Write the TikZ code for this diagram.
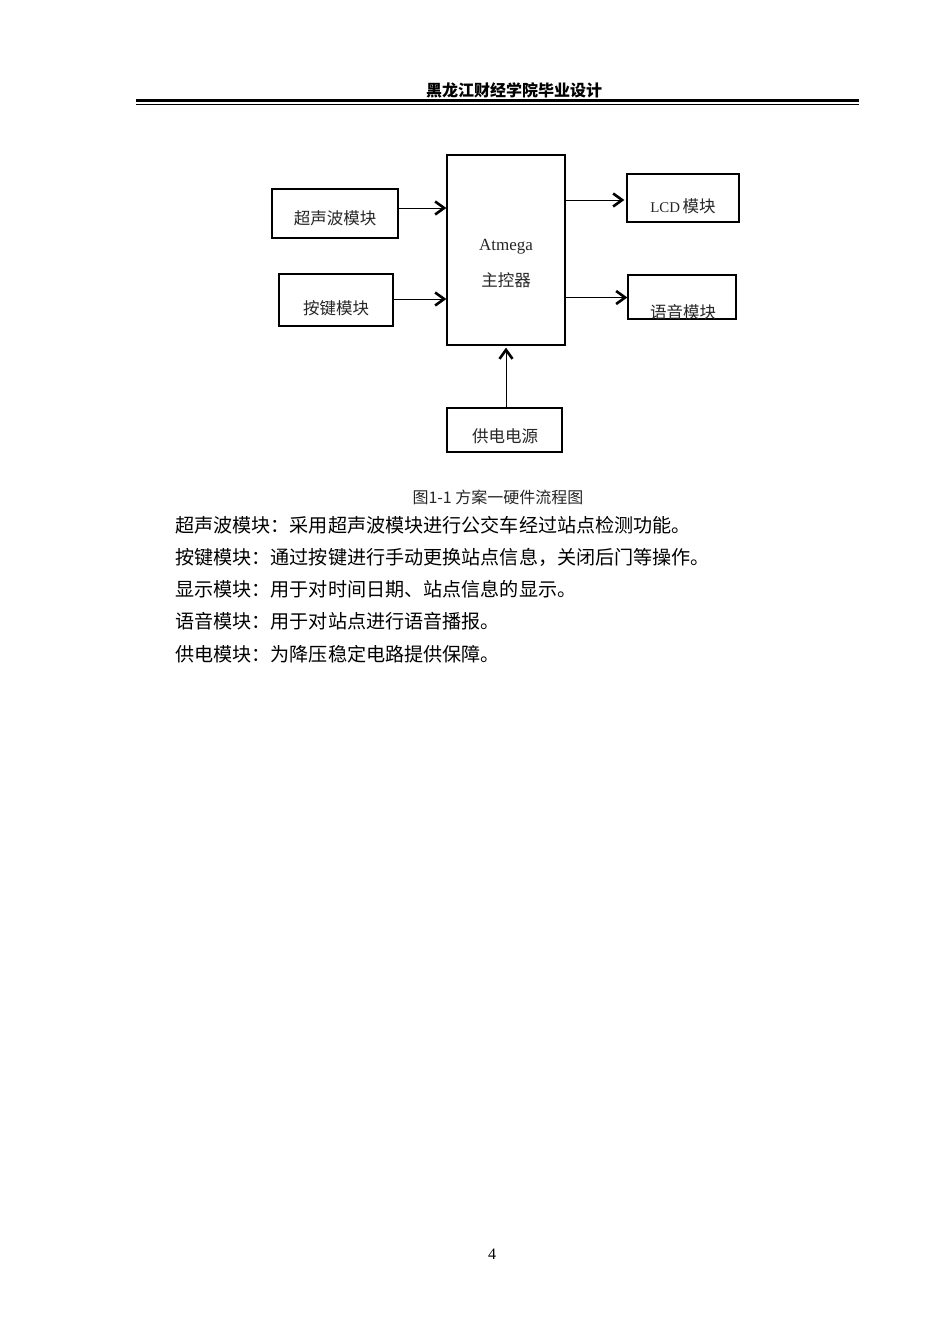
\documentclass[tikz,border=0pt]{standalone}
\usepackage{fontspec}
\setmainfont{Liberation Serif}
\newfontfamily\cjk{Noto Sans CJK SC}
\usetikzlibrary{positioning,arrows.meta}

\begin{document}
\begin{tikzpicture}[
	x=1pt, y=-1pt,
	font=\cjk,
	modbox/.style={
		draw=black,
		line width=1.3pt,
		inner sep=0pt
	},
	boxtext/.style={
		font=\cjk\fontsize{16.5}{18}\selectfont,
		text=black!85,
		inner sep=0pt
	},
	flow/.style={
		draw=black,
		line width=1pt,
		-{Straight Barb[length=9pt,width=13pt,line width=2.6pt]}
	},
	bodyline/.style={
		anchor=west,
		inner sep=0pt,
		font=\cjk\fontsize{19.1}{21}\selectfont
	}
	]
	
	\useasboundingbox[fill=white] (0,0) rectangle (950,1344);
	
	% header
	\node[font=\cjk\bfseries\fontsize{16}{18}\selectfont, inner sep=0pt] (head) at (514,90) {黑龙江财经学院毕业设计};
	\coordinate (hl) at (136,100.5);
	\coordinate (hr) at (859,100.5);
	\draw[line width=3pt] (hl) -- (hr);
	\draw[line width=1pt] ([yshift=-3.6pt]hl) -- ([yshift=-3.6pt]hr);
	
	% boxes
	\node[modbox, minimum width=126, minimum height=49] (usonic) at (335,213.5) {};
	\node[modbox, minimum width=114, minimum height=52] (keys) at (336,300) {};
	\node[modbox, minimum width=118, minimum height=190] (ctrl) at (506,250) {};
	\node[modbox, minimum width=112, minimum height=48] (lcd) at (683,198) {};
	\node[modbox, minimum width=108, minimum height=44] (voice) at (682,297) {};
	\node[modbox, minimum width=115, minimum height=44] (power) at (504.5,430) {};
	
	\node[boxtext] (usonic-t) at (335,218) {超声波模块};
	\node[boxtext] (keys-t) at (336,308) {按键模块};
	\node[boxtext, font=\rmfamily\fontsize{17}{19}\selectfont] (ctrl-a) at (506,247) {Atmega};
	\node[boxtext] (ctrl-b) at (506,280) {主控器};
	\node[boxtext] (lcd-t) at (683,206) {\fontspec{Liberation Serif}[Scale=0.9]LCD\,\cjk 模块};
	\node[boxtext] (voice-t) at (683,312) {语音模块};
	\node[boxtext] (power-t) at (505,436) {供电电源};
	
	% arrows
	\draw[flow] ([yshift=5.5pt]usonic.east) -- ([yshift=5.5pt]usonic.east -| ctrl.west);
	\draw[flow] ([yshift=1pt]keys.east) -- ([yshift=1pt]keys.east -| ctrl.west);
	\draw[flow] ([yshift=-2pt]lcd.west -| ctrl.east) -- ([yshift=-2pt,xshift=-2pt]lcd.west);
	\draw[flow] ([yshift=-0.5pt]voice.west -| ctrl.east) -- ([yshift=-0.5pt]voice.west);
	\draw[flow] (power.north -| ctrl.south) -- ([yshift=-2pt]ctrl.south);
	
	% caption and text
	\node[font=\cjk\fontsize{16}{18}\selectfont, text=black!85, inner sep=0pt] (caption) at (498,497) {图1-1 方案一硬件流程图};
	\node[bodyline] (l1) at (175,525) {超声波模块：采用超声波模块进行公交车经过站点检测功能。};
	\node[bodyline] (l2) at (175,557) {按键模块：通过按键进行手动更换站点信息，关闭后门等操作。};
	\node[bodyline] (l3) at (175,589) {显示模块：用于对时间日期、站点信息的显示。};
	\node[bodyline] (l4) at (175,621) {语音模块：用于对站点进行语音播报。};
	\node[bodyline] (l5) at (175,654) {供电模块：为降压稳定电路提供保障。};
	
	\node[font=\rmfamily\fontsize{16}{18}\selectfont, inner sep=0pt] (pageno) at (492,1254) {4};
\end{tikzpicture}
\end{document}
